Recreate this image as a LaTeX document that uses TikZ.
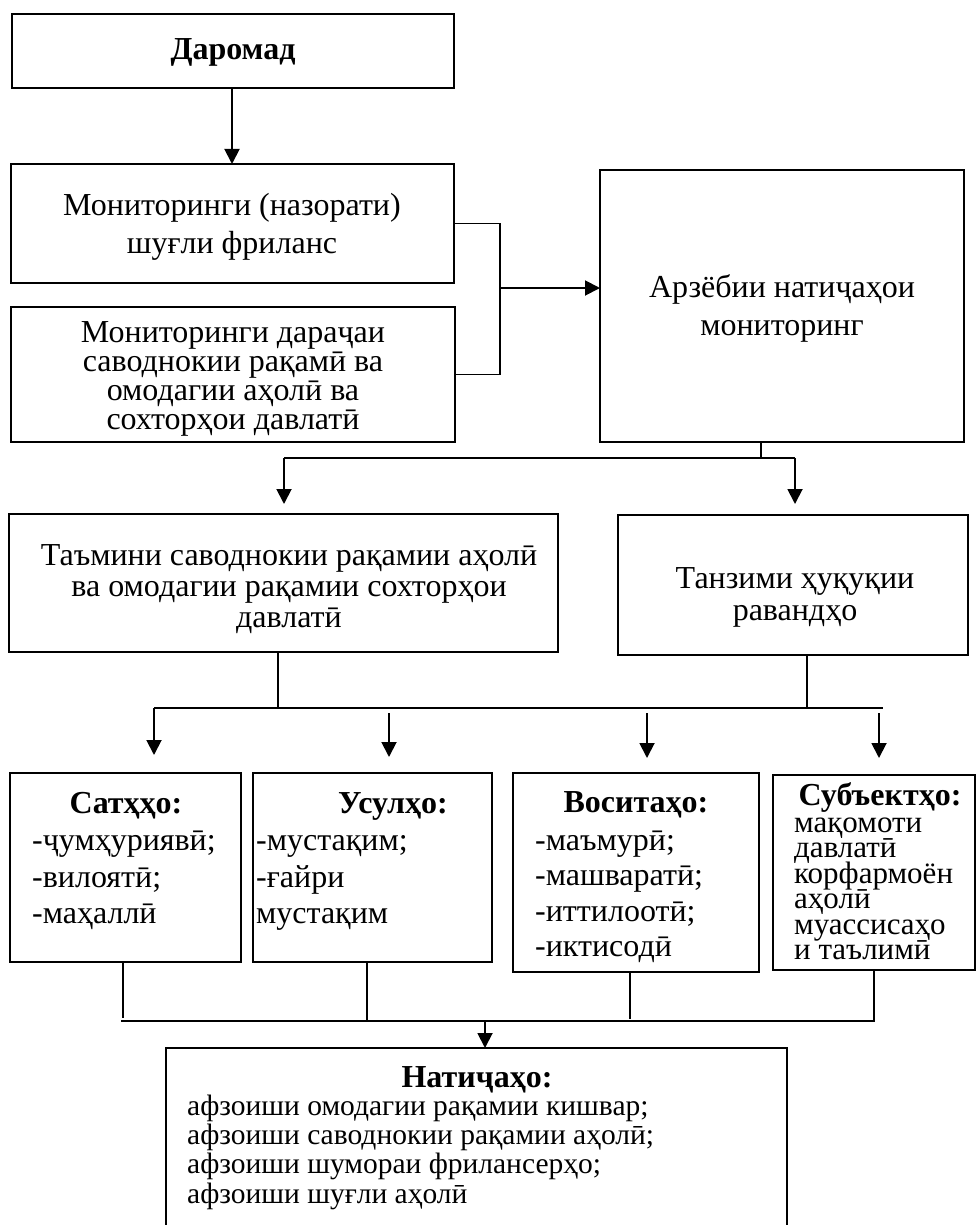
\documentclass[tikz,border=0pt]{standalone}
\usepackage{fontspec}
\setmainfont{Liberation Serif}
\usetikzlibrary{arrows.meta}
\begin{document}
\begin{tikzpicture}[x=1pt,y=-1pt,
  box/.style={draw, line width=2.2pt, inner sep=0pt, outer sep=0pt, anchor=north west},
  ln/.style={line width=1.9pt},
  arr/.style={line width=1.9pt, -{Triangle[length=15pt,width=15pt]}},
  t/.style={inner sep=0pt, font=\fontsize{32}{32}\selectfont},
  ts/.style={inner sep=0pt, font=\fontsize{31}{31}\selectfont},
  tn/.style={inner sep=0pt, font=\fontsize{29.5}{29.5}\selectfont},
  tb/.style={inner sep=0pt, font=\fontsize{32}{32}\selectfont\bfseries}]
\useasboundingbox (0,0) rectangle (977,1225);
\clip (0,0) rectangle (977,1225);
% boxes
\node[box, minimum width=442pt, minimum height=74pt]  (dar)  at (12,14) {};
\node[box, minimum width=443pt, minimum height=119pt] (mon1) at (11,164) {};
\node[box, minimum width=444pt, minimum height=135pt] (mon2) at (11,307) {};
\node[box, minimum width=364pt, minimum height=272pt] (arz)  at (600,170) {};
\node[box, minimum width=549pt, minimum height=138pt] (tam)  at (9,514) {};
\node[box, minimum width=350pt, minimum height=140pt] (tan)  at (618,515) {};
\node[box, minimum width=231pt, minimum height=189pt] (sat)  at (10,773) {};
\node[box, minimum width=239pt, minimum height=189pt] (usul) at (253,773) {};
\node[box, minimum width=246pt, minimum height=199pt] (vos)  at (513,773) {};
\node[box, minimum width=202pt, minimum height=195pt] (sub)  at (773,775) {};
\node[box, minimum width=621pt, minimum height=200pt] (nat)  at (166,1048) {};
% texts
\node[tb, anchor=base] (dart) at (233,60) {Даромад};
\node[t, anchor=base] (m1a) at (232,215) {Мониторинги (назорати)};
\node[t, anchor=base] (m1b) at (232,253) {шуғли фриланс};
\begin{scope}
\clip (11,307) rectangle (455,441);
\node[t, anchor=base] (m2a) at (233,342) {Мониторинги дараҷаи};
\node[t, anchor=base] (m2b) at (233,371) {саводнокии рақамӣ ва};
\node[t, anchor=base] (m2c) at (233,400) {омодагии аҳолӣ ва};
\node[t, anchor=base] (m2d) at (233,429) {сохторҳои давлатӣ};
\end{scope}
\node[t, anchor=base] (az1) at (782,297) {Арзёбии натиҷаҳои};
\node[t, anchor=base] (az2) at (782,335) {мониторинг};
\node[t, anchor=base] (tm1) at (289,565) {Таъмини саводнокии рақамии аҳолӣ};
\node[t, anchor=base] (tm2) at (289,596) {ва омодагии рақамии сохторҳои};
\node[t, anchor=base] (tm3) at (289,627) {давлатӣ};
\node[t, anchor=base] (tn1) at (795,588) {Танзими ҳуқуқии};
\node[t, anchor=base] (tn2) at (795,620) {равандҳо};
% Сатҳҳо
\node[tb, anchor=base] (sh) at (126,813) {Сатҳҳо:};
\node[t, anchor=base west] (s1) at (32,850) {-ҷумҳуриявӣ;};
\node[t, anchor=base west] (s2) at (32,887) {-вилоятӣ;};
\node[t, anchor=base west] (s3) at (32,923) {-маҳаллӣ};
% Усулҳо
\node[tb, anchor=base] (uh) at (393,813) {Усулҳо:};
\node[t, anchor=base west] (u1) at (256,850) {-мустақим;};
\node[t, anchor=base west] (u2) at (256,887) {-ғайри};
\node[t, anchor=base west] (u3) at (256,923) {мустақим};
% Воситаҳо
\node[tb, anchor=base] (vh) at (636,812) {Воситаҳо:};
\node[t, anchor=base west] (v1) at (535,850) {-маъмурӣ;};
\node[t, anchor=base west] (v2) at (535,885.5) {-машваратӣ;};
\node[t, anchor=base west] (v3) at (535,921) {-иттилоотӣ;};
\node[t, anchor=base west] (v4) at (535,956.5) {-иктисодӣ};
% Субъектҳо
\node[tb, anchor=base] (bh) at (880,805) {Субъектҳо:};
\node[ts, anchor=base west] (b1) at (794,832) {мақомоти};
\node[ts, anchor=base west] (b2) at (794,857.5) {давлатӣ};
\node[ts, anchor=base west] (b3) at (794,883) {корфармоён};
\node[ts, anchor=base west] (b4) at (794,908.5) {аҳолӣ};
\node[ts, anchor=base west] (b5) at (794,934) {муассисаҳо};
\node[ts, anchor=base west] (b6) at (794,959.5) {и таълимӣ};
% Натиҷаҳо
\node[tb, anchor=base] (nh) at (477,1087) {Натиҷаҳо:};
\node[tn, anchor=base west] (n1) at (187,1115) {афзоиши омодагии рақамии кишвар;};
\node[tn, anchor=base west] (n2) at (187,1144) {афзоиши саводнокии рақамии аҳолӣ;};
\node[tn, anchor=base west] (n3) at (187,1173) {афзоиши шумораи фрилансерҳо;};
\node[tn, anchor=base west] (n4) at (187,1203) {афзоиши шуғли аҳолӣ};
% connectors
\draw[arr] (dar.south -| 232,0) -- (mon1.north -| 232,0);
\coordinate (j1) at (500,288);
\draw[ln] (mon1.east) -| (j1) |- (mon2.east);
\draw[arr] (j1) -- (j1 -| arz.west);
\coordinate (s1) at (761,458);
\coordinate (sl) at (284,458);
\coordinate (sr) at (795,458);
\draw[ln] (arz.south -| s1) -- (s1);
\draw[ln] (sl) -- (sr);
\draw[arr] (sl) -- (284,504);
\draw[arr] (sr) -- (795,504);
\coordinate (h2l) at (154,708);
\coordinate (h2r) at (883,708);
\draw[ln] (tam.south -| 278,0) -- (278,708);
\draw[ln] (tan.south -| 807,0) -- (807,708);
\draw[ln] (h2l) -- (h2r);
\draw[arr] (h2l) -- (154,755);
\draw[arr] (389,713) -- (389,757);
\draw[arr] (647,713) -- (647,758);
\draw[arr] (879,713) -- (879,758);
\coordinate (h3l) at (121,1021);
\coordinate (h3r) at (875,1021);
\draw[ln] (sat.south -| 123,0) -- (123,1018);
\draw[ln] (usul.south -| 367,0) -- (367,1021);
\draw[ln] (vos.south -| 630,0) -- (630,1019);
\draw[ln] (sub.south -| 874,0) -- (874,1021);
\draw[ln] (h3l) -- (h3r);
\draw[arr] (485,1021) -- (nat.north -| 485,0);
\end{tikzpicture}
\end{document}
